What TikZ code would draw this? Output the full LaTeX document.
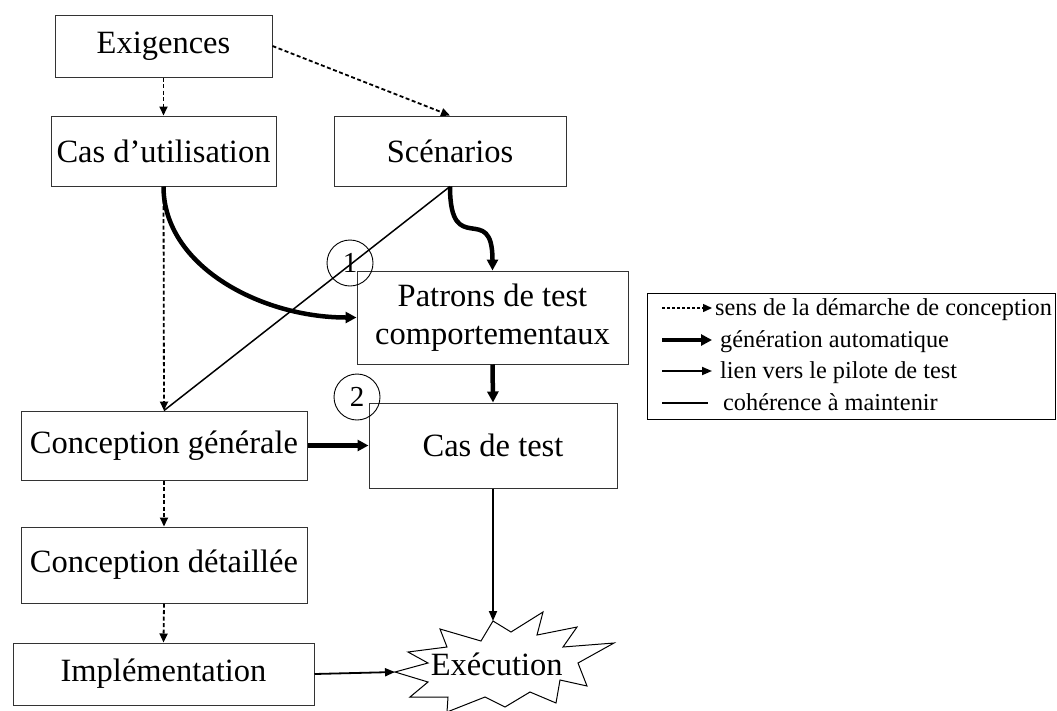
\documentclass[tikz,border=0pt]{standalone}
\usepackage{fontspec}
\setmainfont{Liberation Serif}
\usetikzlibrary{arrows.meta}
\newcommand\boxfont{\fontsize{32.5}{38}\selectfont}
\newcommand\legfont{\fontsize{24.3}{29}\selectfont}
\newcommand\numfont{\fontsize{29}{32}\selectfont}
\begin{document}
\begin{tikzpicture}[x=1pt,y=-1pt,
  box/.style={draw=black!80, line width=1pt, fill=white, inner sep=0pt,
              align=center, font=\boxfont},
  boxsize/.style 2 args={minimum width=#1pt, minimum height=#2pt},
  design/.style={line width=1.8pt, dash pattern=on 4pt off 2.5pt,
                 -{Triangle[length=9pt,width=8pt]}},
  gen/.style={line width=4.5pt, -{Triangle[length=11pt,width=11pt]}},
  pilot/.style={line width=1.8pt, -{Triangle[length=10pt,width=8pt]}},
  coh/.style={line width=1.5pt},
  num/.style={draw, circle, line width=0.9pt, minimum size=46pt, inner sep=0pt,
              font=\numfont},
  legtext/.style={anchor=base west, inner sep=0pt, font=\legfont}
]
\useasboundingbox (0,0) rectangle (1057,710);

% process boxes
\node[box, boxsize={217}{62}]  (exig) at (163.5,46)    {Exigences};
\node[box, boxsize={225}{70}]  (uc)   at (163.5,151)   {Cas d’utilisation};
\node[box, boxsize={232}{70}]  (scen) at (450,151)     {Scénarios};
\node[box, boxsize={271}{93}]  (pat)  at (492.5,317.5) {Patrons de test\\comportementaux};
\node[box, boxsize={248}{85}]  (ct)   at (493,445.5)   {Cas de test};
\node[box, boxsize={286}{69}]  (cg)   at (164,445.5)   {Conception générale};
\node[box, boxsize={286}{76}]  (cd)   at (164,565)     {Conception détaillée};
\node[box, boxsize={301}{62}]  (impl) at (163.5,674)   {Implémentation};

% execution burst
\draw[line width=1pt, fill=white]
  (493,621) -- (511,632) -- (543,612) -- (537,635) -- (577,627) -- (563,647)
  -- (614,643) -- (578,663) -- (587,686) -- (560,680) -- (556,703) -- (530,692)
  -- (505,707) -- (485,697) -- (447,712) -- (448,697) -- (410,697) -- (428,682)
  -- (395,672) -- (428,663) -- (408,652) -- (447,647) -- (440,629) -- (481,641)
  -- cycle;
\coordinate (extop) at (493,621);
\coordinate (exleft) at (395,672);
\node[anchor=base, inner sep=0pt, font=\boxfont] (exec) at (496.7,675) {Exécution};

% design flow
\draw[design] (exig.south) -- (uc.north);
\draw[design] (exig.east) -- (scen.north);
\draw[design] (uc.south) -- (cg.north);
\draw[design] (cg.south) -- (cd.north);
\draw[design] (cd.south) -- (impl.north);

% consistency link
\draw[coh] (scen.south) -- (cg.north);

% automatic generation
\draw[gen] (uc.south) .. controls +(0,80) and +(-95,0) .. (pat.west);
\draw[gen] (scen.south) .. controls +(0,74) and +(0,-71) .. (pat.north);
\draw[gen] (pat.south) -- (ct.north);
\draw[gen] (cg.east) -- (ct.west);

% links to the test driver
\draw[pilot] (ct.south) -- (extop);
\draw[pilot] (impl.east) -- (exleft);

% step markers
\node[num] (n1) at (350,263) {1};
\node[num] (n2) at (357,397) {2};

% legend
\node[draw, line width=1pt, anchor=north west, minimum width=408pt,
      minimum height=126pt, inner sep=0pt] (leg) at (647,293) {};
\coordinate (la1) at (662,308); \coordinate (lb1) at (712,308);
\coordinate (la2) at (662,340); \coordinate (lb2) at (712,340);
\coordinate (la3) at (662,371); \coordinate (lb3) at (712,371);
\coordinate (la4) at (662,403); \coordinate (lb4) at (708,403);
\draw[design, line width=1.4pt, dash pattern=on 3pt off 2pt] (la1) -- (lb1);
\draw[gen, line width=3.5pt] (la2) -- (lb2);
\draw[pilot] (la3) -- (lb3);
\draw[coh] (la4) -- (lb4);
\node[legtext] (t1) at (715,315) {sens de la démarche de conception};
\node[legtext] (t2) at (720,347) {génération automatique};
\node[legtext] (t3) at (720,378) {lien vers le pilote de test};
\node[legtext] (t4) at (723,410) {cohérence à maintenir};
\end{tikzpicture}
\end{document}
